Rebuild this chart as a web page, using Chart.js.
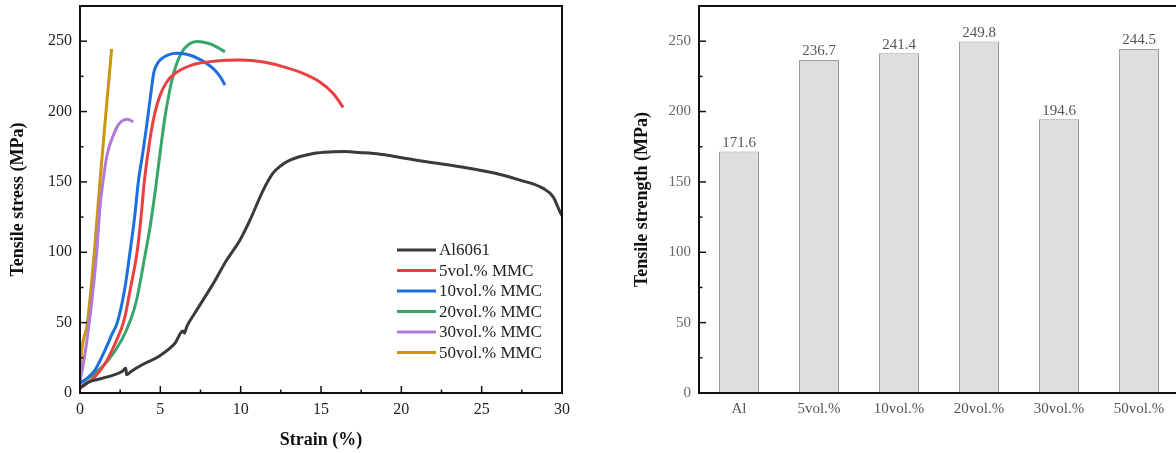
<!DOCTYPE html>
<html>
<head>
<meta charset="utf-8">
<script src="https://cdn.jsdelivr.net/npm/chart.js@4.4.1/dist/chart.umd.min.js"></script>
<style>
  html, body { margin:0; padding:0; background:#fff; overflow:hidden; width:1176px; height:453px; }
  #c1 { position:absolute; left:0; top:0; }
  #c2 { position:absolute; left:600px; top:0; }
</style>
</head>
<body>
<canvas id="c1" width="600" height="453"></canvas>
<canvas id="c2" width="580" height="453"></canvas>
<script>
// ---------- Data: stress-strain curves ----------
const seriesLabels = ['Al6061', '5vol.% MMC', '10vol.% MMC', '20vol.% MMC', '30vol.% MMC', '50vol.% MMC'];
const seriesColors = ['#3a3a3a', '#ec3f3f', '#1b6fe0', '#38a56a', '#b07ad8', '#c9960c'];

const alStrain = [0, 0.5, 0.93, 1.76, 2.59, 2.85, 2.9, 3.2, 3.84, 4.87, 5.91, 6.4, 6.5, 6.64, 7.16, 8.3, 9.13, 9.96, 10.58, 11.4, 12.0, 12.5, 13.07, 14.52, 15.76, 16.5, 17.4, 18.67, 19.5, 21.57, 23.65, 25.72, 27.38, 28.83, 29.45, 29.87, 30.0];
const alStress = [4, 7.5, 9.2, 11.6, 15.1, 17.5, 13, 15.5, 19.9, 25.8, 35.3, 44, 42.5, 47, 57, 77.9, 94.5, 108.7, 122.9, 144, 156, 161.5, 165.5, 170.2, 171.4, 171.6, 170.9, 169.7, 168.3, 164.3, 160.8, 156.5, 151.3, 145.4, 139.4, 128.8, 126];

const v5Strain = [0, 0.5, 0.93, 1.56, 2.18, 2.75, 3.15, 3.55, 3.8, 4.0, 4.35, 4.68, 5.0, 5.4, 5.91, 6.95, 7.98, 9.02, 10.0, 10.68, 11.5, 12.45, 13.69, 14.93, 15.76, 16.38];
const v5Stress = [3.3, 7.5, 11.6, 21, 35, 52, 75, 100, 125, 150, 180, 200, 212, 221, 227, 233, 235.3, 236.5, 236.7, 236.3, 235, 232.5, 228, 221, 212.8, 203];

const v10Strain = [0, 0.5, 0.93, 1.56, 2.0, 2.32, 2.8, 3.11, 3.4, 3.63, 3.9, 4.15, 4.4, 4.6, 4.87, 5.2, 5.5, 6.0, 6.33, 6.9, 7.36, 7.9, 8.4, 8.8, 9.02];
const v10Stress = [6.9, 11, 16.3, 30.5, 42, 50, 75, 100, 125, 150, 170, 190, 212, 228, 235, 238.5, 240.3, 241.4, 241.2, 239.8, 237.6, 234, 229.4, 223.5, 218.8];

const v20Strain = [0, 0.5, 0.93, 1.76, 2.59, 3.15, 3.5, 4.05, 4.36, 4.7, 5.0, 5.3, 5.55, 5.8, 6.05, 6.33, 6.8, 7.3, 7.98, 8.5, 9.02];
const v20Stress = [7.3, 10.5, 14, 23.4, 37.6, 52, 65, 98, 118, 145, 172, 197, 213, 226, 235, 242, 248, 249.8, 248.5, 246, 242.4];

const v30Strain = [0, 0.2, 0.52, 0.8, 1.04, 1.25, 1.45, 1.7, 2.07, 2.35, 2.6, 2.95, 3.32];
const v30Stress = [9.2, 20, 45, 72, 100, 133, 152, 170, 183, 190, 193.2, 194.6, 192.7];

const v50Strain = [0, 0.05, 0.46, 0.89, 1.24, 1.62, 1.97];
const v50Stress = [8, 22, 50, 100, 150, 200, 244.5];

// ---------- Data: tensile strength bars ----------
const barCategories = ['Al', '5vol.%', '10vol.%', '20vol.%', '30vol.%', '50vol.%'];
const barValues = [171.6, 236.7, 241.4, 249.8, 194.6, 244.5];

const curveStrains = [alStrain, v5Strain, v10Strain, v20Strain, v30Strain, v50Strain];
const curveStresses = [alStress, v5Stress, v10Stress, v20Stress, v30Stress, v50Stress];

const SERIF = "'Liberation Serif','Times New Roman',serif";
Chart.defaults.font.family = SERIF;
Chart.defaults.devicePixelRatio = 1;

function fixY(width) {
  return s => { s.width = width; s.paddingTop = 0; s.paddingBottom = 0; };
}
function fixX(height) {
  return s => { s.height = height; s.paddingLeft = 0; s.paddingRight = 0; };
}

// frame + inward ticks
const framePlugin = {
  id: 'frame',
  afterDraw(chart, args, opts) {
    const {ctx, chartArea: a} = chart;
    ctx.save();
    ctx.strokeStyle = '#111';
    ctx.lineWidth = 2;
    ctx.strokeRect(a.left, a.top, a.right - a.left, a.bottom - a.top);
    ctx.lineWidth = 1.5;
    ['x', 'y'].forEach(id => {
      const o = opts[id];
      if (!o) return;
      const s = chart.scales[id];
      s.ticks.forEach(t => {
        if (t.value <= s.min || t.value >= s.max) return;
        const len = (Math.abs(t.value % o.major) < 1e-6) ? 7 : 3.5;
        const p = s.getPixelForValue(t.value);
        ctx.beginPath();
        if (id === 'x') { ctx.moveTo(p, a.bottom); ctx.lineTo(p, a.bottom - len); }
        else { ctx.moveTo(a.left, p); ctx.lineTo(a.left + len, p); }
        ctx.stroke();
      });
    });
    ctx.restore();
  }
};

const legendPlugin = {
  id: 'innerLegend',
  afterDraw(chart, args, o) {
    if (!o || !o.show) return;
    const ctx = chart.ctx;
    ctx.save();
    ctx.font = '17px ' + SERIF;
    ctx.textBaseline = 'middle';
    chart.data.datasets.forEach((d, i) => {
      const y = o.y + i * o.dy;
      ctx.strokeStyle = d.borderColor;
      ctx.lineWidth = 3;
      ctx.beginPath();
      ctx.moveTo(o.x, y); ctx.lineTo(o.x + o.len, y);
      ctx.stroke();
      ctx.fillStyle = '#222';
      ctx.fillText(d.label, o.x + o.len + 3, y + 1);
    });
    ctx.restore();
  }
};

const valueLabelPlugin = {
  id: 'valueLabels',
  afterDatasetsDraw(chart, args, o) {
    if (!o || !o.show) return;
    const ctx = chart.ctx;
    ctx.save();
    ctx.font = '15px ' + SERIF;
    ctx.fillStyle = '#555';
    ctx.textAlign = 'center';
    ctx.textBaseline = 'bottom';
    const meta = chart.getDatasetMeta(0);
    meta.data.forEach((bar, i) => {
      ctx.fillText(chart.data.datasets[0].data[i].toFixed(1), bar.x, bar.y - 1);
    });
    ctx.restore();
  }
};

// ---------- Left chart ----------
new Chart(document.getElementById('c1'), {
  type: 'scatter',
  data: {
    datasets: seriesLabels.map((lab, i) => ({
      label: lab,
      data: curveStrains[i].map((x, k) => ({x: x, y: curveStresses[i][k]})),
      showLine: true,
      borderColor: seriesColors[i],
      backgroundColor: seriesColors[i],
      borderWidth: 3,
      pointRadius: 0,
      cubicInterpolationMode: 'monotone'
    }))
  },
  options: {
    responsive: false,
    animation: false,
    layout: { padding: { left: 0, top: 6, right: 38, bottom: 0 } },
    plugins: {
      legend: { display: false },
      tooltip: { enabled: false },
      frame: { x: { major: 5 }, y: { major: 50 } },
      innerLegend: { show: true, x: 397, y: 250, dy: 20.5, len: 39 }
    },
    scales: {
      x: {
        type: 'linear', min: 0, max: 30,
        afterFit: fixX(60),
        grid: { display: false, drawTicks: false },
        border: { display: false },
        ticks: { stepSize: 2.5, autoSkip: false, maxRotation: 0, padding: 7, color: '#222', font: { size: 16 },
          callback: v => (v % 5 === 0 ? v : '') },
        title: { display: true, text: 'Strain (%)', color: '#111', font: { size: 18, weight: 'bold' }, padding: 2 }
      },
      y: {
        type: 'linear', min: 0, max: 275,
        afterFit: fixY(80),
        grid: { display: false, drawTicks: false },
        border: { display: false },
        ticks: { stepSize: 25, autoSkip: false, padding: 8, color: '#222', font: { size: 16 },
          callback: v => (v % 50 === 0 ? v : '') },
        title: { display: true, text: 'Tensile stress (MPa)', color: '#111', font: { size: 18, weight: 'bold' }, padding: 8 }
      }
    }
  },
  plugins: [framePlugin, legendPlugin]
});

// ---------- Right chart ----------
new Chart(document.getElementById('c2'), {
  type: 'bar',
  data: {
    labels: barCategories,
    datasets: [{
      label: 'Tensile strength',
      data: barValues,
      backgroundColor: '#dedede',
      borderColor: '#9c9c9c',
      borderWidth: 1,
      barPercentage: 0.5,
      categoryPercentage: 1
    }]
  },
  options: {
    responsive: false,
    animation: false,
    layout: { padding: { left: 0, top: 6, right: 1, bottom: 0 } },
    plugins: {
      legend: { display: false },
      tooltip: { enabled: false },
      frame: { y: { major: 50 } },
      valueLabels: { show: true }
    },
    scales: {
      x: {
        afterFit: fixX(60),
        grid: { display: false, drawTicks: false },
        border: { display: false },
        ticks: { padding: 7, color: '#555', font: { size: 15 }, maxRotation: 0 }
      },
      y: {
        type: 'linear', min: 0, max: 275,
        afterFit: fixY(99),
        grid: { display: false, drawTicks: false },
        border: { display: false },
        ticks: { stepSize: 25, autoSkip: false, padding: 8, color: '#666', font: { size: 15 },
          callback: v => (v % 50 === 0 ? v : '') },
        title: { display: true, text: 'Tensile strength (MPa)', color: '#111', font: { size: 18, weight: 'bold' }, padding: 32 }
      }
    }
  },
  plugins: [framePlugin, valueLabelPlugin]
});
</script>
</body>
</html>
